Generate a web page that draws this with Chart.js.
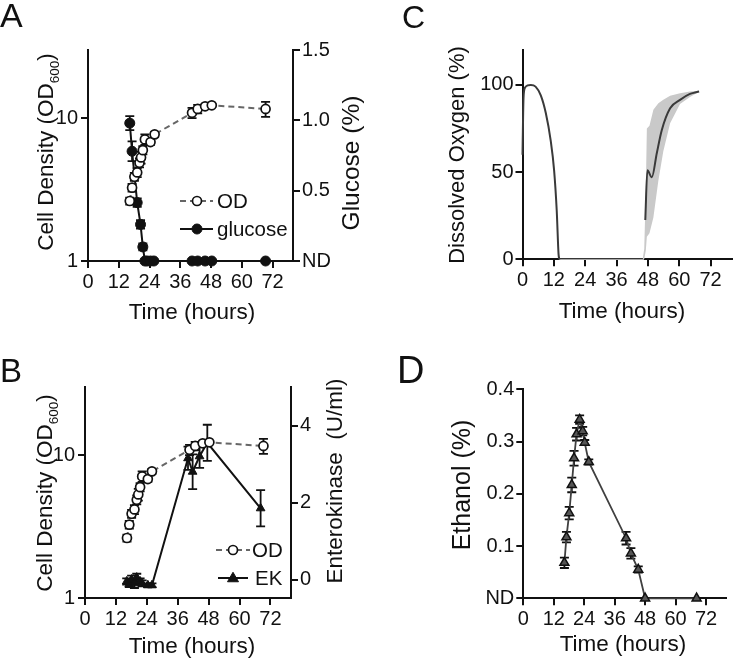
<!DOCTYPE html>
<html>
<head>
<meta charset="utf-8">
<script src="https://cdn.jsdelivr.net/npm/chart.js@4"></script>
<style>
body { margin: 0; background: #fff; }
#wrap { position: relative; width: 733px; height: 660px; }
canvas { position: absolute; }
</style>
</head>
<body>
<div id="wrap">
  <canvas id="chartA" width="366" height="330" style="left:0;top:0"></canvas>
  <canvas id="chartB" width="366" height="330" style="left:0;top:330px"></canvas>
  <canvas id="chartC" width="367" height="330" style="left:366px;top:0"></canvas>
  <canvas id="chartD" width="367" height="330" style="left:366px;top:330px"></canvas>
</div>
<script>
const FONT = '"Liberation Sans", Arial, sans-serif';
const INK = '#111';

// shared time axis
const hourTicks = [0, 12, 24, 36, 48, 60, 72];

// cell density (A and B)
const odHours = [16.3, 17.2, 18.1, 19.2, 20.1, 20.7, 21.4, 22.2, 24.4, 26.0, 40.6, 42.8, 45.7, 48.3, 69.3];
const odValues = [2.63, 3.26, 3.89, 4.17, 4.87, 5.31, 5.97, 7.1, 6.8, 7.7, 10.9, 11.6, 12.1, 12.3, 11.6];
const odErrors = [0.15, 0.2, 0.25, 0.3, 0.35, 0.5, 0.4, 0.6, 0.3, 0.3, 0.9, 0.8, 0.4, 0.3, 1.4];
const odTicks = [1, 10];

// glucose (A)
const glcHours = [16.3, 17.2, 19.2, 20.5, 21.4, 22.2, 23.1, 24.4, 25.7, 40.6, 42.8, 45.7, 48.3, 69.3];
const glcValues = [0.98, 0.78, 0.415, 0.26, 0.1, 0, 0, 0, 0, 0, 0, 0, 0, 0];
const glcErrors = [0.05, 0.07, 0.03, 0.03, 0.025, 0, 0, 0, 0, 0, 0, 0, 0, 0];
const glcTicks = [0, 0.5, 1.0, 1.5];

// enterokinase (B)
const ekHours = [16.2, 17.2, 18.1, 19.2, 20.1, 21.4, 22.2, 24.4, 26.0, 40.0, 41.8, 44.5, 47.5, 68.2];
const ekValues = [-0.05, -0.12, 0.0, -0.1, 0.05, -0.05, -0.1, -0.15, -0.15, 3.15, 2.8, 3.2, 3.55, 1.85];
const ekErrors = [0.08, 0.08, 0.1, 0.12, 0.1, 0.08, 0.08, 0.05, 0.05, 0.3, 0.45, 0.3, 0.47, 0.47];
const ekTicks = [0, 2, 4];

// dissolved oxygen (C)
const doHours1 = [0, 0.4, 1, 2, 3.2, 5, 7, 8.9, 10.8, 12.1, 13.1, 13.8, 14.1];
const doValues1 = [60, 93, 98.5, 99.7, 100, 99, 94, 84, 68, 51, 28, 3, 0];
const doHoursIdle = [14.1, 46.5];
const doValuesIdle = [0, 0];
const doHours2 = [47.0, 47.8, 49.5, 51.4, 53.3, 56.5, 60.3, 64.1, 67.6];
const doValues2 = [22.5, 51, 47, 60.8, 74, 86.6, 91.4, 94.8, 96.2];
const bandHours = [46.0, 46.6, 47.2, 47.6, 48.6, 50.1, 52.0, 53.9, 56.5, 60.3, 64.1, 67.6];
const bandHigh = [0, 6, 40, 75, 76.5, 85.7, 89.5, 91.5, 93.7, 95.2, 96.2, 96.7];
const bandLow = [0, 0, 5, 13, 15, 24, 45, 62, 78, 89, 93, 96];
const doTicks = [0, 50, 100];

// ethanol (D)
const etohHours = [16.2, 17.0, 18.1, 19.1, 20.0, 21.0, 22.2, 23.4, 24.2, 25.8, 40.5, 42.4, 45.3, 48.0, 68.3];
const etohValues = [0.068, 0.117, 0.163, 0.217, 0.268, 0.314, 0.342, 0.32, 0.298, 0.261, 0.115, 0.086, 0.055, 0, 0];
const etohErrors = [0.01, 0.01, 0.012, 0.014, 0.014, 0.012, 0.008, 0.008, 0.005, 0.005, 0.012, 0.01, 0.006, 0, 0];
const etohTicks = [0, 0.1, 0.2, 0.3, 0.4];

Chart.defaults.font.family = FONT;
Chart.defaults.color = INK;

const TICK_SIZE = 20;
const pts = (xs, ys) => xs.map((x, i) => ({ x: x, y: ys[i] }));

function axisStyle() {
  return {
    border: { display: true, color: INK, width: 2 },
    grid: { drawOnChartArea: false, drawTicks: true, tickLength: 7, color: INK, lineWidth: 2 }
  };
}

function timeAxis(height) {
  return Object.assign(axisStyle(), {
    type: 'linear', min: 0, max: 80,
    afterBuildTicks: s => { s.ticks = hourTicks.map(v => ({ value: v })); },
    afterFit: s => { s.height = height; },
    ticks: { font: { size: TICK_SIZE }, color: INK, padding: 2, maxRotation: 0, autoSkip: false }
  });
}

function logAxis(width) {
  return Object.assign(axisStyle(), {
    type: 'logarithmic', position: 'left', min: 1, max: 30,
    afterBuildTicks: s => { s.ticks = odTicks.map(v => ({ value: v })); },
    afterFit: s => { s.width = width; },
    ticks: { font: { size: TICK_SIZE }, color: INK, padding: 3, callback: v => String(v) }
  });
}

function linAxis(position, width, min, max, tickValues, fmt) {
  return Object.assign(axisStyle(), {
    type: 'linear', position: position, min: min, max: max,
    afterBuildTicks: s => { s.ticks = tickValues.map(v => ({ value: v })); },
    afterFit: s => { s.width = width; },
    ticks: { font: { size: TICK_SIZE }, color: INK, padding: 2, callback: fmt }
  });
}

function marker(ctx, style, x, y, r, fill, stroke, lw) {
  ctx.save();
  ctx.fillStyle = fill;
  ctx.strokeStyle = stroke;
  ctx.lineWidth = lw;
  ctx.setLineDash([]);
  ctx.beginPath();
  if (style === 'triangle') {
    ctx.moveTo(x, y - r * 1.15);
    ctx.lineTo(x + r * 1.1, y + r * 0.75);
    ctx.lineTo(x - r * 1.1, y + r * 0.75);
    ctx.closePath();
  } else {
    ctx.arc(x, y, r, 0, Math.PI * 2);
  }
  ctx.fill();
  ctx.stroke();
  ctx.restore();
}

function drawErrorBars(chart) {
  const ctx = chart.ctx;
  chart.data.datasets.forEach((ds, i) => {
    if (!ds.errors) return;
    const meta = chart.getDatasetMeta(i);
    const ys = chart.scales[ds.yAxisID];
    ctx.save();
    ctx.strokeStyle = INK;
    ctx.lineWidth = 1.8;
    meta.data.forEach((pt, j) => {
      const e = ds.errors[j];
      if (!e) return;
      const v = ds.data[j].y;
      const top = ys.getPixelForValue(v + e);
      const bot = ys.getPixelForValue(v - e);
      ctx.beginPath();
      ctx.moveTo(pt.x, top); ctx.lineTo(pt.x, bot);
      ctx.moveTo(pt.x - 4.5, top); ctx.lineTo(pt.x + 4.5, top);
      ctx.moveTo(pt.x - 4.5, bot); ctx.lineTo(pt.x + 4.5, bot);
      ctx.stroke();
    });
    ctx.restore();
  });
}

function drawTitle(ctx, t) {
  ctx.save();
  ctx.translate(t.x, t.y);
  if (t.rotate) ctx.rotate(-Math.PI / 2);
  ctx.fillStyle = INK;
  ctx.textAlign = 'left';
  ctx.textBaseline = 'alphabetic';
  const parts = t.parts.map(p => (typeof p === 'string' ? { text: p } : p));
  let total = 0;
  parts.forEach(p => {
    p.size = p.sub ? t.size * 0.6 : t.size;
    ctx.font = p.size + 'px ' + FONT;
    p.w = ctx.measureText(p.text).width;
    total += p.w;
  });
  let cx = -total / 2;
  parts.forEach(p => {
    ctx.font = p.size + 'px ' + FONT;
    ctx.fillText(p.text, cx, p.sub ? t.size * 0.25 : 0);
    cx += p.w;
  });
  ctx.restore();
}

function drawLegend(chart, items) {
  const ctx = chart.ctx;
  items.forEach(it => {
    const ds = chart.data.datasets[it.dataset];
    ctx.save();
    ctx.strokeStyle = ds.borderColor;
    ctx.lineWidth = ds.borderWidth;
    ctx.setLineDash(ds.borderDash || []);
    ctx.beginPath();
    ctx.moveTo(it.x1, it.y);
    ctx.lineTo(it.x2, it.y);
    ctx.stroke();
    ctx.restore();
    marker(ctx, ds.pointStyle, it.mx, it.y, ds.pointRadius, ds.pointBackgroundColor, ds.pointBorderColor, ds.pointBorderWidth || 1);
    ctx.save();
    ctx.fillStyle = INK;
    ctx.font = it.size + 'px ' + FONT;
    ctx.textAlign = 'left';
    ctx.textBaseline = 'middle';
    ctx.fillText(ds.label, it.tx, it.y + 1);
    ctx.restore();
  });
}

function decor(cfg) {
  return {
    id: 'decor',
    beforeDatasetsDraw(chart) { drawErrorBars(chart); },
    afterDraw(chart) {
      const ctx = chart.ctx;
      ctx.save();
      ctx.fillStyle = INK;
      ctx.font = cfg.letter.size + 'px ' + FONT;
      ctx.textAlign = 'left';
      ctx.textBaseline = 'alphabetic';
      ctx.fillText(cfg.letter.text, cfg.letter.x, cfg.letter.y);
      ctx.restore();
      cfg.titles.forEach(t => drawTitle(ctx, t));
      if (cfg.legend) drawLegend(chart, cfg.legend);
    }
  };
}

const baseOptions = (padTop, padRight) => ({
  responsive: false,
  animation: false,
  layout: { padding: { top: padTop, right: padRight, left: 0, bottom: 0 } },
  plugins: { legend: { display: false }, tooltip: { enabled: false } }
});

const odDataset = {
  label: 'OD', data: pts(odHours, odValues), errors: odErrors, yAxisID: 'yOD',
  borderColor: '#666', borderDash: [6, 4], borderWidth: 2,
  pointStyle: 'circle', pointRadius: 4.5, pointBackgroundColor: '#fff',
  pointBorderColor: INK, pointBorderWidth: 1.7, clip: false
};

// Panel A
new Chart(document.getElementById('chartA'), {
  type: 'line',
  data: {
    datasets: [
      Object.assign({}, odDataset),
      {
        label: 'glucose', data: pts(glcHours, glcValues), errors: glcErrors, yAxisID: 'yGlc',
        borderColor: INK, borderWidth: 2, pointStyle: 'circle', pointRadius: 5,
        pointBackgroundColor: INK, pointBorderColor: INK, pointBorderWidth: 1, clip: false
      }
    ]
  },
  options: Object.assign(baseOptions(50, 0), {
    scales: {
      x: timeAxis(69),
      yOD: logAxis(88),
      yGlc: linAxis('right', 73, 0, 1.5, glcTicks, v => (v === 0 ? 'ND' : v.toFixed(1)))
    }
  }),
  plugins: [decor({
    letter: { text: 'A', x: 0, y: 27, size: 34 },
    titles: [
      { parts: ['Cell Density (OD', { text: '600', sub: true }, ')'], x: 53, y: 152, size: 22.5, rotate: true },
      { parts: ['Glucose (%)'], x: 359, y: 163, size: 24.5, rotate: true },
      { parts: ['Time (hours)'], x: 192, y: 319, size: 22.5 }
    ],
    legend: [
      { dataset: 0, x1: 180, x2: 213, mx: 197, y: 201, tx: 217, size: 20.5 },
      { dataset: 1, x1: 180, x2: 213, mx: 197, y: 229, tx: 217, size: 20.5 }
    ]
  })]
});

// Panel B
new Chart(document.getElementById('chartB'), {
  type: 'line',
  data: {
    datasets: [
      Object.assign({}, odDataset),
      {
        label: 'EK', data: pts(ekHours, ekValues), errors: ekErrors, yAxisID: 'yEK',
        borderColor: INK, borderWidth: 2, pointStyle: 'triangle', pointRadius: 5,
        pointBackgroundColor: INK, pointBorderColor: INK, pointBorderWidth: 1, clip: false
      }
    ]
  },
  options: Object.assign(baseOptions(57, 0), {
    scales: {
      x: timeAxis(62),
      yOD: logAxis(85),
      yEK: linAxis('right', 75, -0.48, 5.0, ekTicks, v => String(v))
    }
  }),
  plugins: [decor({
    letter: { text: 'B', x: 0, y: 52, size: 33 },
    titles: [
      { parts: ['Cell Density (OD', { text: '600', sub: true }, ')'], x: 52, y: 163, size: 22.5, rotate: true },
      { parts: ['Enterokinase  (U/ml)'], x: 342, y: 151, size: 22.5, rotate: true },
      { parts: ['Time (hours)'], x: 192, y: 323, size: 22.5 }
    ],
    legend: [
      { dataset: 0, x1: 216, x2: 250, mx: 233, y: 220, tx: 252, size: 20.5 },
      { dataset: 1, x1: 218, x2: 248, mx: 233, y: 248, tx: 255, size: 20.5 }
    ]
  })]
});

// Panel C
new Chart(document.getElementById('chartC'), {
  type: 'line',
  data: {
    datasets: [
      {
        label: 'DO', data: pts(doHours1, doValues1), yAxisID: 'y',
        borderColor: '#3a3a3a', borderWidth: 2, pointRadius: 0, cubicInterpolationMode: 'monotone', clip: false
      },
      {
        label: 'DO recovery', data: pts(doHours2, doValues2), yAxisID: 'y',
        borderColor: '#3a3a3a', borderWidth: 2, pointRadius: 0, cubicInterpolationMode: 'monotone', clip: false
      },
      {
        label: 'DO idle', data: pts(doHoursIdle, doValuesIdle), yAxisID: 'y',
        borderColor: '#cfcfcf', borderWidth: 1, pointRadius: 0, clip: false
      },
      {
        label: 'range high', data: pts(bandHours, bandHigh), yAxisID: 'y',
        borderColor: '#c9c9c9', borderWidth: 0, pointRadius: 0, fill: false
      },
      {
        label: 'range low', data: pts(bandHours, bandLow), yAxisID: 'y',
        borderColor: '#c9c9c9', borderWidth: 0, pointRadius: 0, fill: '-1', backgroundColor: '#c9c9c9'
      }
    ]
  },
  options: Object.assign(baseOptions(50, 1.5), {
    scales: {
      x: timeAxis(70.7),
      y: linAxis('left', 156.5, 0, 120, doTicks, v => String(v))
    }
  }),
  plugins: [decor({
    letter: { text: 'C', x: 36, y: 28, size: 32 },
    titles: [
      { parts: ['Dissolved Oxygen (%)'], x: 98, y: 155, size: 22, rotate: true },
      { parts: ['Time (hours)'], x: 256, y: 318, size: 22.5 }
    ]
  })]
});

// Panel D
new Chart(document.getElementById('chartD'), {
  type: 'line',
  data: {
    datasets: [
      {
        label: 'ethanol', data: pts(etohHours, etohValues), errors: etohErrors, yAxisID: 'y',
        borderColor: '#404040', borderWidth: 1.8, pointStyle: 'triangle', pointRadius: 5.2,
        pointBackgroundColor: '#555', pointBorderColor: INK, pointBorderWidth: 1.5, clip: false
      }
    ]
  },
  options: Object.assign(baseOptions(59.3, 1.5), {
    scales: {
      x: timeAxis(61.7),
      y: linAxis('left', 157.3, 0, 0.4, etohTicks, v => (v === 0 ? 'ND' : v.toFixed(1)))
    }
  }),
  plugins: [decor({
    letter: { text: 'D', x: 31, y: 53, size: 38 },
    titles: [
      { parts: ['Ethanol (%)'], x: 104, y: 155, size: 25, rotate: true },
      { parts: ['Time (hours)'], x: 257, y: 321, size: 22.5 }
    ]
  })]
});
</script>
</body>
</html>
